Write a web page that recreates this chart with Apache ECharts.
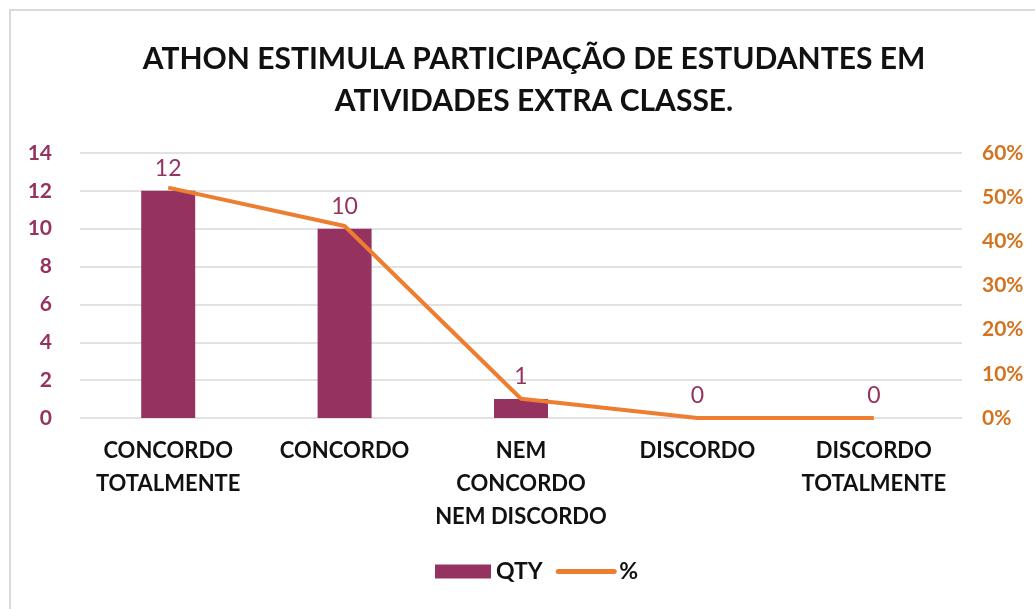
<!DOCTYPE html>
<html>
<head>
<meta charset="utf-8">
<script src="https://cdn.jsdelivr.net/npm/echarts@6/dist/echarts.min.js"></script>
<style>
  html, body { margin: 0; padding: 0; background: #fff; }
  #frame { position: absolute; left: 9px; top: 9px; width: 1040px; height: 620px; border: 2px solid #d9d9d9; box-sizing: border-box; }
  #chart { position: absolute; left: 0; top: 0; width: 1035px; height: 609px; }
</style>
</head>
<body>
<div id="frame"></div>
<div id="chart"></div>
<script>
const categories = ['CONCORDO\nTOTALMENTE', 'CONCORDO', 'NEM\nCONCORDO\nNEM DISCORDO', 'DISCORDO', 'DISCORDO\nTOTALMENTE'];
const qtyValues = [12, 10, 1, 0, 0];
const pctValues = [52.17, 43.48, 4.35, 0, 0];
const leftTicks = { min: 0, max: 14, interval: 2 };
const rightTicks = { min: 0, max: 60, interval: 10 };

const FONT = 'Lato, "Open Sans", sans-serif';
const PURPLE = '#963260';
const ORANGE = '#ED7D31';

const chart = echarts.init(document.getElementById('chart'));
chart.setOption({
  animation: false,
  textStyle: { fontFamily: FONT },
  title: {
    text: 'ATHON ESTIMULA PARTICIPAÇÃO DE ESTUDANTES EM\nATIVIDADES EXTRA CLASSE.',
    left: 529,
    textAlign: 'center',
    top: 33,
    textStyle: { fontFamily: FONT, fontSize: 30, fontWeight: 'bold', color: '#111', lineHeight: 42 },
  },
  legend: {
    bottom: 21,
    left: 430,
    itemGap: 13,
    itemWidth: 56,
    itemHeight: 14,
    textStyle: { fontFamily: FONT, fontSize: 23, fontWeight: 'bold', color: '#111' },
    data: [
      { name: 'QTY', icon: 'rect' },
      { name: '%', itemStyle: { opacity: 0 }, lineStyle: { width: 5, cap: 'round' } },
    ],
  },
  grid: { left: 80, right: 73, top: 153, bottom: 191 },
  xAxis: {
    type: 'category',
    data: categories,
    axisLine: { show: false },
    axisTick: { show: false },
    axisLabel: {
      interval: 0,
      margin: 16,
      fontFamily: FONT,
      fontSize: 22,
      fontWeight: 'bold',
      color: '#111',
      lineHeight: 33,
    },
  },
  yAxis: [
    {
      type: 'value',
      min: leftTicks.min,
      max: leftTicks.max,
      interval: leftTicks.interval,
      axisLine: { show: false },
      axisTick: { show: false },
      splitLine: { lineStyle: { color: '#d9d9d9', width: 1.5 } },
      axisLabel: { margin: 28, fontFamily: FONT, fontSize: 21, fontWeight: 'bold', color: PURPLE },
    },
    {
      type: 'value',
      min: rightTicks.min,
      max: rightTicks.max,
      interval: rightTicks.interval,
      axisLine: { show: false },
      axisTick: { show: false },
      splitLine: { show: false },
      axisLabel: { margin: 20, formatter: '{value}%', fontFamily: FONT, fontSize: 21, fontWeight: 'bold', color: '#D4731F' },
    },
  ],
  series: [
    {
      name: 'QTY',
      type: 'bar',
      data: qtyValues,
      barWidth: 54,
      itemStyle: { color: PURPLE },
      label: {
        show: true,
        position: 'top',
        distance: 11,
        fontFamily: FONT,
        fontSize: 23,
        color: PURPLE,
      },
    },
    {
      name: '%',
      type: 'line',
      yAxisIndex: 1,
      data: pctValues,
      showSymbol: false,
      symbol: 'none',
      lineStyle: { color: ORANGE, width: 4 },
      itemStyle: { color: ORANGE },
    },
  ],
});
</script>
</body>
</html>
